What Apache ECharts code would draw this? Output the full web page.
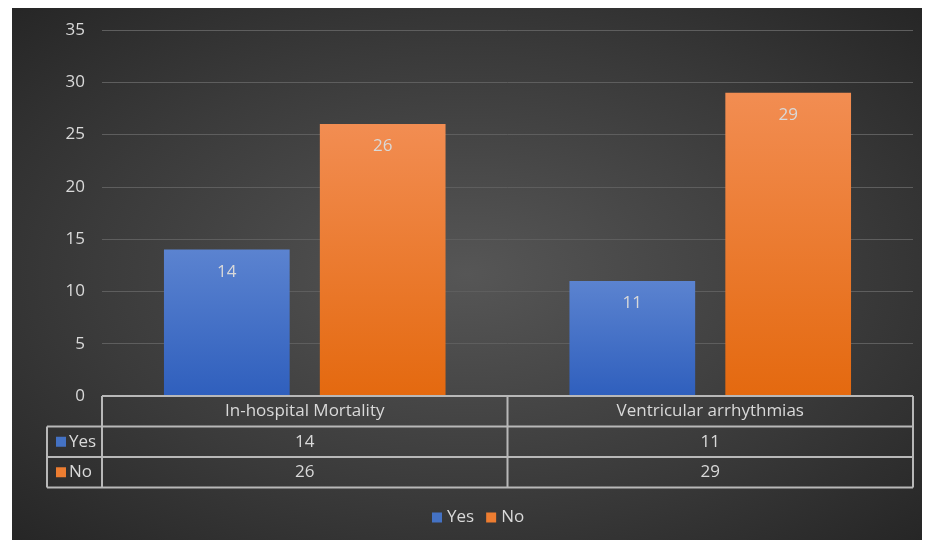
<!DOCTYPE html>
<html lang="en">
<head>
  <meta charset="utf-8">
  <title>Yes / No</title>
  <script src="https://cdn.jsdelivr.net/npm/echarts@6/dist/echarts.min.js"></script>
  <style>
    body { margin: 0; background: #fff; }
    #bg { position: absolute; left: 12px; top: 8px; width: 910px; height: 532px;
          background: radial-gradient(ellipse at center, #565656 0%, #3a3a3a 60%, #262626 100%); }
    #chart { position: absolute; left: 0; top: 0; width: 934px; height: 544px; }
  </style>
</head>
<body>
  <div id="bg"></div>
  <div id="chart"></div>
  <script>
    // data
    var categories = ['In-hospital Mortality', 'Ventricular arrhythmias'];
    var seriesNames = ['Yes', 'No'];
    var yesValues = [14, 11];
    var noValues = [26, 29];
    var yTicks = { min: 0, max: 35, interval: 5 };

    var textColor = '#d9d9d9';
    var font = 'Open Sans';
    var fs = 17;
    var blue = '#4472c4', orange = '#ed7d31';

    function grad(top, bottom) {
      return new echarts.graphic.LinearGradient(0, 0, 0, 1, [
        { offset: 0, color: top }, { offset: 1, color: bottom }
      ]);
    }

    var chart = echarts.init(document.getElementById('chart'));
    chart.setOption({
      animation: false,
      textStyle: { fontFamily: font },
      grid: { left: 102, right: 21, top: 30, bottom: 148 },
      legend: {
        top: 504,
        left: 427,
        icon: 'rect',
        itemWidth: 10,
        itemHeight: 10,
        itemGap: 12,
        textStyle: { color: textColor, fontSize: fs },
        data: [
          { name: 'Yes', itemStyle: { color: blue } },
          { name: 'No', itemStyle: { color: orange } }
        ]
      },
      xAxis: {
        type: 'category',
        data: categories,
        axisLine: { show: false },
        axisTick: { show: false },
        axisLabel: { show: false }
      },
      yAxis: {
        type: 'value',
        min: yTicks.min, max: yTicks.max, interval: yTicks.interval,
        axisLabel: { color: textColor, fontSize: fs, margin: 17 },
        splitLine: { lineStyle: { color: '#5e5e5e', width: 1 } }
      },
      series: [
        {
          name: seriesNames[0], type: 'bar', data: yesValues,
          barWidth: '31%', barGap: '24%',
          itemStyle: { color: grad('#5b83d0', '#2f5fbd') },
          label: { show: true, position: 'insideTop', distance: 14, color: textColor, fontSize: fs }
        },
        {
          name: seriesNames[1], type: 'bar', data: noValues,
          barWidth: '31%', barGap: '24%',
          itemStyle: { color: grad('#f28d52', '#e4690f') },
          label: { show: true, position: 'insideTop', distance: 14, color: textColor, fontSize: fs }
        }
      ]
    });

    // data table under the axis
    var c0 = chart.convertToPixel({ xAxisIndex: 0 }, categories[0]);
    var c1 = chart.convertToPixel({ xAxisIndex: 0 }, categories[1]);
    var cw = c1 - c0;
    var xL = c0 - cw / 2, xM = c0 + cw / 2, xR = c1 + cw / 2;
    var y0 = chart.convertToPixel({ yAxisIndex: 0 }, 0);
    var rowH = 30.5;
    var keyL = xL - 55;
    var lineStyle = { stroke: '#b8b8b8', lineWidth: 2 };

    function line(x1, y1, x2, y2) {
      return { type: 'line', shape: { x1: x1, y1: y1, x2: x2, y2: y2 }, style: lineStyle, z: 10 };
    }
    function text(t, x, y, align) {
      return { type: 'text', x: x, y: y, z: 10,
        style: { text: t, fill: textColor, fontSize: fs, fontFamily: font,
                 align: align || 'center', verticalAlign: 'middle' } };
    }

    var els = [
      line(xL, y0, xR, y0),
      line(keyL, y0 + rowH, xR, y0 + rowH),
      line(keyL, y0 + 2 * rowH, xR, y0 + 2 * rowH),
      line(keyL, y0 + 3 * rowH, xR, y0 + 3 * rowH),
      line(xL, y0, xL, y0 + 3 * rowH),
      line(xM, y0, xM, y0 + 3 * rowH),
      line(xR, y0, xR, y0 + 3 * rowH),
      line(keyL, y0 + rowH, keyL, y0 + 3 * rowH)
    ];
    var rows = [yesValues, noValues];
    var keyColors = [blue, orange];
    categories.forEach(function (c, i) {
      var cx = c0 + i * cw;
      els.push(text(c, cx, y0 + rowH / 2));
      rows.forEach(function (r, j) {
        els.push(text(String(r[i]), cx, y0 + rowH * (j + 1.5)));
      });
    });
    seriesNames.forEach(function (n, j) {
      var cy = y0 + rowH * (j + 1.5);
      els.push({ type: 'rect', z: 10, shape: { x: keyL + 9, y: cy - 5, width: 10, height: 10 },
                 style: { fill: keyColors[j] } });
      els.push(text(n, keyL + 22, cy, 'left'));
    });
    chart.setOption({ graphic: els });
  </script>
</body>
</html>
